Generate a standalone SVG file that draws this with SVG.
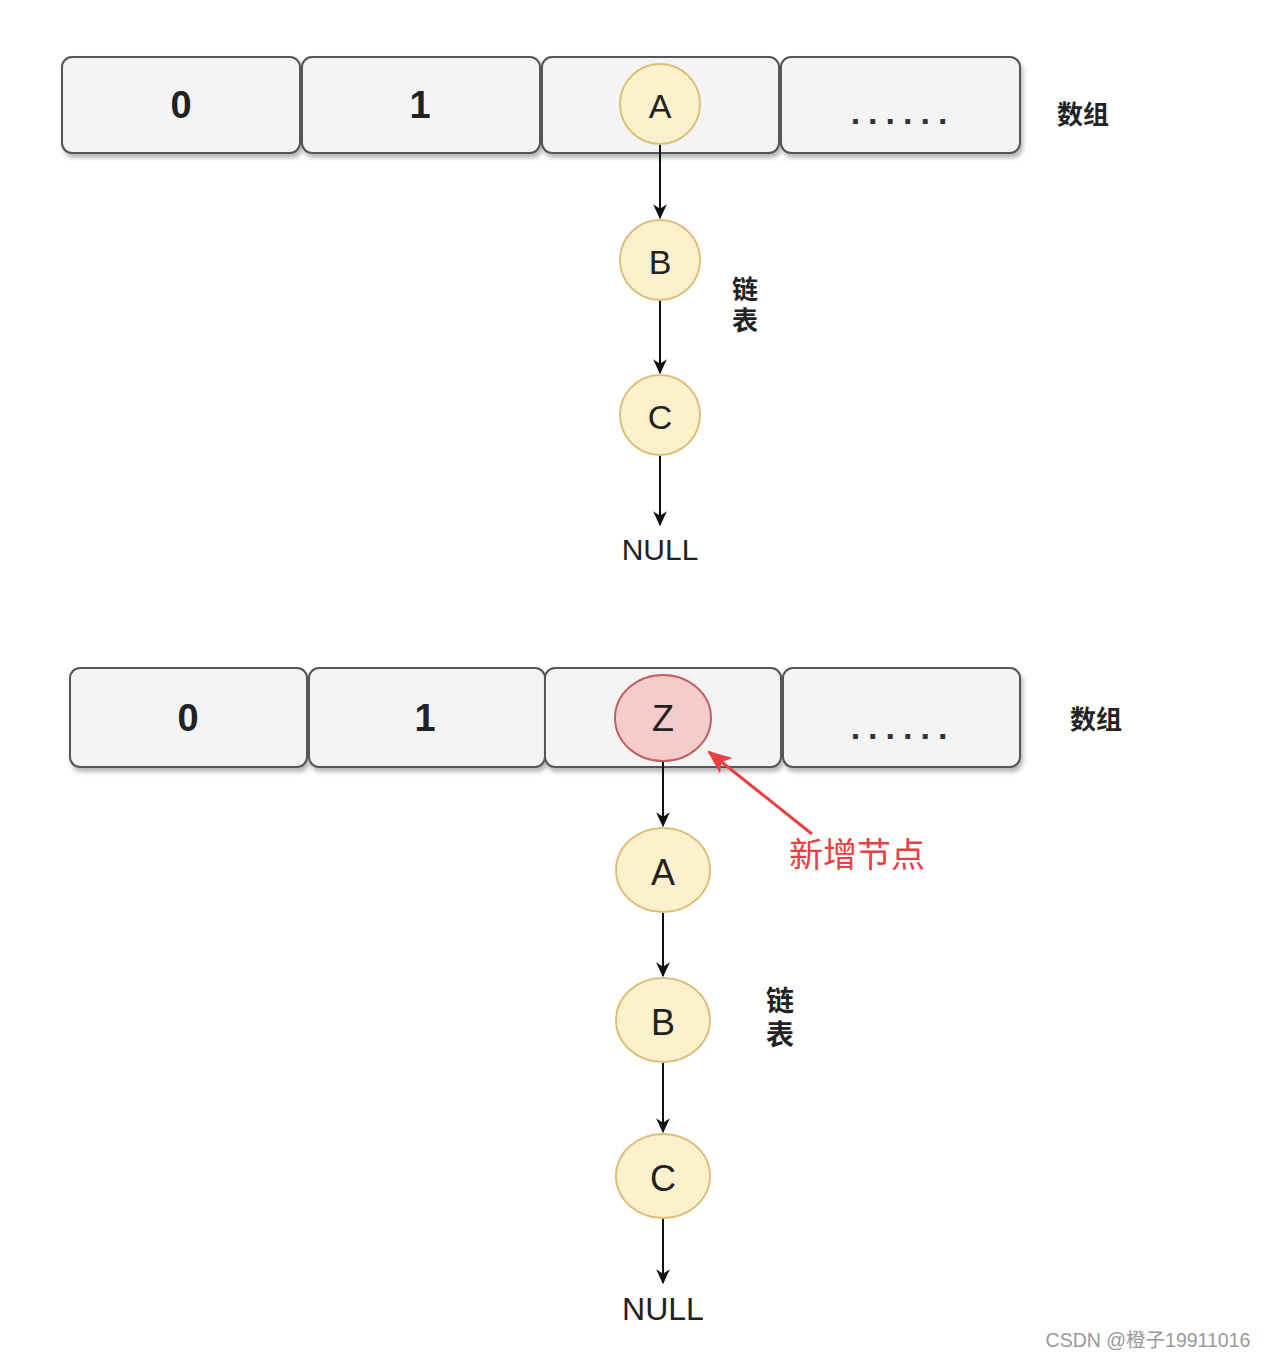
<svg xmlns="http://www.w3.org/2000/svg" width="1267" height="1360" viewBox="0 0 1267 1360">
<style>
.cell{fill:#f4f4f4;stroke:#555;stroke-width:2;filter:url(#sh)}
.node{fill:#fdf0cc;stroke:#dcc07a;stroke-width:2}
.znode{fill:#f4cccc;stroke:#c06060;stroke-width:2}
.lbl{font-family:"Liberation Sans","DejaVu Sans",sans-serif;font-size:34px;fill:#222;text-anchor:middle;dominant-baseline:central}
.big{font-size:38px;font-weight:bold}
.dots{font-family:"Liberation Sans",sans-serif;font-size:34px;font-weight:bold;fill:#333;text-anchor:middle;letter-spacing:8px}
.cn{font-family:"Noto Sans CJK SC","Liberation Sans",sans-serif;font-size:26px;font-weight:bold;fill:#222;text-anchor:middle}
.vcn{font-family:"Noto Sans CJK SC","Liberation Sans",sans-serif;font-weight:bold;fill:#222;text-anchor:middle;writing-mode:vertical-rl}
.edge{stroke:#111;stroke-width:2;fill:none;marker-end:url(#ah)}
</style>
<defs>
<filter id="sh" x="-5%" y="-10%" width="110%" height="130%">
<feDropShadow dx="2" dy="4" stdDeviation="2" flood-color="#888" flood-opacity="0.6"/>
</filter>
<marker id="ah" viewBox="0 0 12 12" refX="11" refY="6" markerWidth="15" markerHeight="15" markerUnits="userSpaceOnUse" orient="auto">
<path d="M0,0.5 L12,6 L0,11.5 L3.5,6 Z" fill="#111"/>
</marker>
<marker id="rah" viewBox="0 0 12 12" refX="11" refY="6" markerWidth="24" markerHeight="24" markerUnits="userSpaceOnUse" orient="auto">
<path d="M0,1 L12,6 L0,11 L3,6 Z" fill="#e84040"/>
</marker>
</defs>
<rect width="1267" height="1360" fill="#fff"/>

<g id="array1">
<g id="cell1-0"><rect class="cell" x="62" y="57" width="238" height="96" rx="10"/><text class="lbl big" x="181" y="105">0</text></g>
<g id="cell1-1"><rect class="cell" x="302" y="57" width="238" height="96" rx="10"/><text class="lbl big" x="420" y="105">1</text></g>
<g id="cell1-2"><rect class="cell" x="542" y="57" width="237" height="96" rx="10"/></g>
<g id="cell1-3"><rect class="cell" x="781" y="57" width="239" height="96" rx="10"/><text class="dots" x="903" y="124">......</text></g>
<text id="arr1-label" class="cn" x="1083" y="124">数组</text>
</g>

<g id="array2">
<g id="cell2-0"><rect class="cell" x="70" y="668" width="237" height="99" rx="10"/><text class="lbl big" x="188" y="718">0</text></g>
<g id="cell2-1"><rect class="cell" x="309" y="668" width="236" height="99" rx="10"/><text class="lbl big" x="425" y="718">1</text></g>
<g id="cell2-2"><rect class="cell" x="545" y="668" width="236" height="99" rx="10"/></g>
<g id="cell2-3"><rect class="cell" x="783" y="668" width="237" height="99" rx="10"/><text class="dots" x="903" y="739">......</text></g>
<text id="arr2-label" class="cn" x="1096" y="729">数组</text>
</g>

<g id="connectors">
<path class="edge" d="M660,144 L660,218"/>
<path class="edge" d="M660,300 L660,373"/>
<path class="edge" d="M660,455 L660,525"/>
<path class="edge" d="M663,761 L663,826"/>
<path class="edge" d="M663,912 L663,976"/>
<path class="edge" d="M663,1062 L663,1132"/>
<path class="edge" d="M663,1218 L663,1283"/>
<path d="M812,834 L709,752" stroke="#e84040" stroke-width="3" fill="none" marker-end="url(#rah)"/>
</g>

<g id="nodeA1"><ellipse class="node" cx="660" cy="104" rx="40" ry="40"/><text class="lbl" x="660" y="106">A</text></g>
<g id="nodeB1"><ellipse class="node" cx="660" cy="260" rx="40" ry="40"/><text class="lbl" x="660" y="262">B</text></g>
<g id="nodeC1"><ellipse class="node" cx="660" cy="415" rx="40" ry="40"/><text class="lbl" x="660" y="417">C</text></g>
<g id="null1"><text class="lbl" x="660" y="549" style="font-size:30px">NULL</text></g>
<text id="list1-label" class="vcn" x="745" y="307" style="font-size:26px;letter-spacing:5px">链表</text>

<g id="nodeZ"><ellipse class="znode" cx="663" cy="718" rx="48" ry="43"/><text class="lbl" x="663" y="718" style="font-size:36px">Z</text></g>
<g id="nodeA2"><ellipse class="node" cx="663" cy="870" rx="47" ry="42"/><text class="lbl" x="663" y="872" style="font-size:36px">A</text></g>
<g id="nodeB2"><ellipse class="node" cx="663" cy="1020" rx="47" ry="42"/><text class="lbl" x="663" y="1022" style="font-size:36px">B</text></g>
<g id="nodeC2"><ellipse class="node" cx="663" cy="1176" rx="47" ry="42"/><text class="lbl" x="663" y="1178" style="font-size:36px">C</text></g>
<g id="null2"><text class="lbl" x="663" y="1309" style="font-size:32px">NULL</text></g>
<text id="list2-label" class="vcn" x="780" y="1020" style="font-size:28px;letter-spacing:6px">链表</text>

<text id="new-label" x="857" y="867" style="font-family:'Noto Sans CJK SC','Liberation Sans',sans-serif;font-size:34px;fill:#e84040;text-anchor:middle">新增节点</text>

<text id="watermark" x="1148" y="1347" style="font-family:'Liberation Sans','Noto Sans CJK SC',sans-serif;font-size:19.5px;fill:#999;text-anchor:middle">CSDN @橙子19911016</text>
</svg>
